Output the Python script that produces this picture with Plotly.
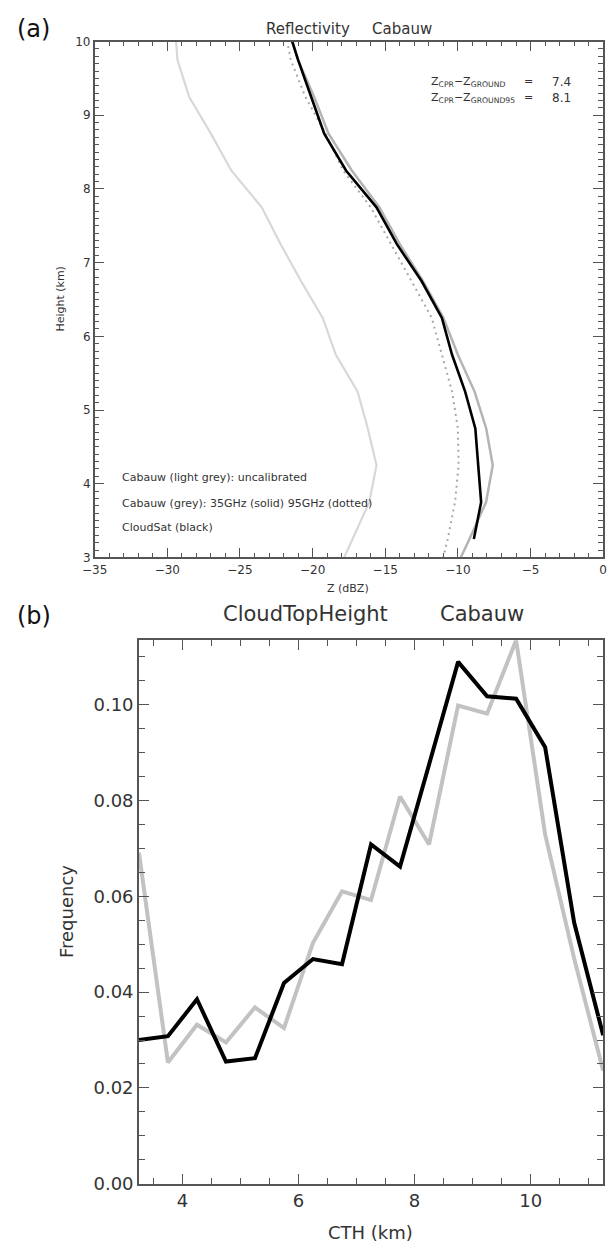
import plotly.graph_objects as go

# ---------------- Panel (a): reflectivity profiles ----------------
heights = [2.75, 3.25, 3.75, 4.25, 4.75, 5.25, 5.75, 6.25, 6.75, 7.25, 7.75, 8.25, 8.75, 9.25, 9.75, 10.25]
z_uncal = [-18.4, -17.25, -16.1, -15.6, -16.2, -16.9, -18.4, -19.3, -20.8, -22.2, -23.5, -25.6, -27.0, -28.5, -29.3, -29.5]
z_35ghz = [-10.4, -9.2, -8.06, -7.6, -8.05, -8.85, -10.0, -11.0, -12.4, -14.0, -15.4, -17.3, -18.9, -19.9, -21.0, -21.8]
z_95ghz = [-11.3, -10.7, -10.2, -9.95, -10.0, -10.4, -11.1, -11.8, -13.2, -14.6, -16.0, -17.9, -19.1, -20.5, -21.5, -22.0]
heights_cs = [3.25, 3.75, 4.25, 4.75, 5.25, 5.75, 6.25, 6.75, 7.25, 7.75, 8.25, 8.75, 9.25, 9.75, 10.25]
z_cloudsat = [-8.9, -8.4, -8.6, -8.8, -9.5, -10.4, -11.1, -12.5, -14.2, -15.6, -17.7, -19.2, -20.1, -21.0, -21.8]

# ---------------- Panel (b): cloud top height ----------------
cth = [3.25, 3.75, 4.25, 4.75, 5.25, 5.75, 6.25, 6.75, 7.25, 7.75, 8.25, 8.75, 9.25, 9.75, 10.25, 10.75, 11.25]
freq_cabauw = [0.0691, 0.0253, 0.0332, 0.0295, 0.0368, 0.0325, 0.0503, 0.0610, 0.0592, 0.0808, 0.0708,
               0.0998, 0.0981, 0.1134, 0.0729, 0.0470, 0.0236]
freq_cloudsat = [0.0300, 0.0308, 0.0385, 0.0255, 0.0262, 0.0419, 0.0469, 0.0458, 0.0708, 0.0662, 0.0875,
                 0.1089, 0.1017, 0.1012, 0.0911, 0.0545, 0.0310]

W, H = 613, 1252
FONT = "DejaVu Sans"
AX = "#555555"
TXT = "#333333"


def px(x):
    return x / W


def py(y):
    return 1 - y / H


fig = go.Figure()

fig.add_trace(go.Scatter(x=z_uncal, y=heights, mode="lines",
                         line=dict(color="#d8d8d8", width=2.2), xaxis="x", yaxis="y"))
fig.add_trace(go.Scatter(x=z_95ghz, y=heights, mode="lines",
                         line=dict(color="#a8a8a8", width=2, dash="2px,4px"), xaxis="x", yaxis="y"))
fig.add_trace(go.Scatter(x=z_35ghz, y=heights, mode="lines",
                         line=dict(color="#b4b4b4", width=2.5), xaxis="x", yaxis="y"))
fig.add_trace(go.Scatter(x=z_cloudsat, y=heights_cs, mode="lines",
                         line=dict(color="#000000", width=2.6), xaxis="x", yaxis="y"))

fig.add_trace(go.Scatter(x=cth, y=freq_cabauw, mode="lines",
                         line=dict(color="#c2c2c2", width=4), xaxis="x2", yaxis="y2"))
fig.add_trace(go.Scatter(x=cth, y=freq_cloudsat, mode="lines",
                         line=dict(color="#000000", width=4), xaxis="x2", yaxis="y2"))

common = dict(showline=True, linecolor=AX, linewidth=1.5, mirror="ticks", ticks="inside",
              tickcolor=AX, tickwidth=1.2, showgrid=False, zeroline=False)

fig.update_layout(
    width=W, height=H, margin=dict(l=0, r=0, t=0, b=0),
    paper_bgcolor="white", plot_bgcolor="white", showlegend=False,
    font=dict(family=FONT, color=TXT),
    xaxis=dict(domain=[px(84), px(607)], range=[-35, 0], tick0=-35, dtick=5, ticklen=10,
               minor=dict(dtick=1, ticklen=5, ticks="inside", tickcolor=AX),
               tickfont=dict(size=12, color=TXT), anchor="y", **common),
    yaxis=dict(domain=[py(558), py(35)], range=[3, 10], dtick=1, ticklen=10,
               minor=dict(dtick=0.1, ticklen=5, ticks="inside", tickcolor=AX),
               tickfont=dict(size=12, color=TXT), anchor="x", **common),
    xaxis2=dict(domain=[px(129.5), px(607)], range=[3.25, 11.25], tick0=0, dtick=2, ticklen=10,
                minor=dict(dtick=0.5, ticklen=6, ticks="inside", tickcolor=AX),
                tickfont=dict(size=18, color=TXT), anchor="y2", **common),
    yaxis2=dict(domain=[py(1193), py(642)], range=[0, 0.1134], dtick=0.02, tickformat=".2f", ticklen=10,
                minor=dict(dtick=0.005, ticklen=6, ticks="inside", tickcolor=AX),
                tickfont=dict(size=18, color=TXT), anchor="x2", **common),
)

ann = []


def add(text, x, y, size, xanchor="center", yanchor="middle", angle=0, color=TXT):
    ann.append(dict(text=text, x=px(x), y=py(y), xref="paper", yref="paper", showarrow=False,
                    xanchor=xanchor, yanchor=yanchor, textangle=angle,
                    font=dict(size=size, color=color, family=FONT)))


add("(a)", 2, 22, 24, xanchor="left", color="#111111")
add("(b)", 2, 617, 24, xanchor="left", color="#111111")
add("Reflectivity", 303, 22, 15)
add("Cabauw", 400, 22, 15)
add("CloudTopHeight", 301, 615, 21)
add("Cabauw", 482, 615, 21)
add("Height (km)", 49, 296, 11, angle=-90)
add("Z (dBZ)", 345, 589, 11)
add("Frequency", 55, 917, 18, angle=-90)
add("CTH (km)", 368, 1242, 18)
add("Z<sub>CPR</sub>−Z<sub>GROUND</sub>", 428, 76, 11, xanchor="left")
add("=", 530, 76, 11)
add("7.4", 576, 76, 12, xanchor="right")
add("Z<sub>CPR</sub>−Z<sub>GROUND95</sub>", 428, 92, 11, xanchor="left")
add("=", 530, 92, 11)
add("8.1", 576, 92, 12, xanchor="right")
add("Cabauw (light grey): uncalibrated", 110, 477, 11, xanchor="left")
add("Cabauw (grey): 35GHz (solid) 95GHz (dotted)", 110, 503, 11, xanchor="left")
add("CloudSat (black)", 110, 528, 11, xanchor="left")

fig.update_layout(annotations=ann)
fig.write_html(
    "out.html",
    config={"displayModeBar": False},
    post_script="document.body.style.margin='0';document.body.style.padding='0';"
                "document.body.style.overflow='hidden';"
                "document.documentElement.style.overflow='hidden';",
)
